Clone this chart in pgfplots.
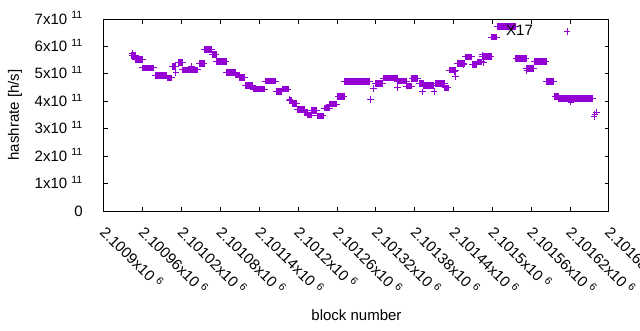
\documentclass[border=0pt]{standalone}
\usepackage{fontspec}
\setmainfont{Liberation Sans}
\usepackage{pgfplots}
\pgfplotsset{compat=1.18}
\usepackage{pgfplotstable}
\definecolor{dviolet}{RGB}{148,0,211}

% runs of blocks with the same hashrate: centre block, hashrate, half-length in blocks
\pgfplotstableread{
x y e
2100946 5.669e11 3.1
2100954 5.523e11 5.4
2100968 5.214e11 8.9
2100988 4.936e11 8.5
2101001 4.856e11 3.5
2101008 5.276e11 2.7
2101018 5.410e11 3.1
2101033 5.148e11 12.0
2101051 5.378e11 3.9
2101061 5.895e11 5.8
2101070 5.713e11 3.1
2101081 5.450e11 7.7
2101096 5.042e11 7.0
2101106 4.966e11 3.1
2101113 4.864e11 4.2
2101124 4.579e11 5.4
2101139 4.448e11 8.9
2101157 4.732e11 7.7
2101170 4.357e11 4.2
2101180 4.441e11 4.6
2101188 4.036e11 2.3
2101194 3.923e11 3.1
2101204 3.701e11 5.4
2101212 3.598e11 3.1
2101217 3.493e11 3.1
2101224 3.660e11 3.9
2101234 3.471e11 4.6
2101244 3.748e11 4.2
2101254 3.901e11 5.4
2101266 4.167e11 5.0
2101291 4.725e11 19.3
2101325 4.656e11 5.4
2101342 4.842e11 10.8
2101360 4.732e11 7.0
2101371 4.557e11 3.9
2101380 4.831e11 4.6
2101390 4.641e11 3.1
2101401 4.572e11 7.3
2101419 4.641e11 6.6
2101429 4.492e11 2.7
2101438 5.133e11 4.6
2101451 5.378e11 5.4
2101463 5.622e11 4.6
2101472 5.345e11 3.5
2101480 5.440e11 3.5
2101491 5.640e11 7.0
2101502 6.337e11 3.9
2101521 6.734e11 13.9
2101544 5.567e11 8.1
2101558 5.199e11 5.4
2101574 5.458e11 8.9
2101589 4.721e11 5.8
2101599 4.182e11 2.7
2101612 4.098e11 10.0
2101639 4.094e11 15.8
}\runs

% isolated blocks
\pgfplotstableread{
x y
2100944 5.742e11
2101011 5.050e11
2101035 5.276e11
2101187 4.065e11
2101312 4.072e11
2101316 4.473e11
2101353 4.503e11
2101392 4.339e11
2101410 4.364e11
2101442 5.068e11
2101443 4.896e11
2101456 5.341e11
2101484 5.688e11
2101486 5.414e11
2101553 5.122e11
2101621 3.974e11
2101657 3.445e11
2101658 3.536e11
2101661 3.609e11
}\singles

\newcommand{\fs}{\fontsize{15}{18}\selectfont}
\newcommand{\sx}[1]{x10\hspace{0.28em}\textsuperscript{#1}}

\begin{document}
\begin{tikzpicture}
\useasboundingbox (-104pt,-119pt) rectangle (536pt,211pt);
\begin{axis}[
  at={(0pt,0pt)}, anchor=south west,
  width=505pt, height=192pt, scale only axis,
  xmin=2100900, xmax=2101680, ymin=0, ymax=7e11,
  scaled ticks=false,
  xtick={2100900,2100960,2101020,2101080,2101140,2101200,2101260,2101320,2101380,2101440,2101500,2101560,2101620,2101680},
  xticklabels={2.1009\sx{6},2.10096\sx{6},2.10102\sx{6},2.10108\sx{6},2.10114\sx{6},2.1012\sx{6},2.10126\sx{6},2.10132\sx{6},2.10138\sx{6},2.10144\sx{6},2.1015\sx{6},2.10156\sx{6},2.10162\sx{6},2.10168\sx{6}},
  ytick={0,1e11,2e11,3e11,4e11,5e11,6e11,7e11},
  yticklabels={0,1\sx{11},2\sx{11},3\sx{11},4\sx{11},5\sx{11},6\sx{11},7\sx{11}},
  xtick pos=both, ytick pos=both, tick align=inside,
  major tick length=4.5pt,
  every tick/.style={black, line width=1pt},
  axis line style={line width=1pt},
  tick label style={font=\fs},
  xticklabel style={xshift=4pt, yshift=-13pt, rotate=-45, anchor=north west, inner sep=0pt},
  yticklabel style={anchor=base east, inner sep=0pt, xshift=-21pt, yshift=-5pt},
  xlabel={block number}, ylabel={hashrate [h/s]},
  every axis x label/.style={at={(rel axis cs:0.5,0)}, anchor=center, yshift=-104pt, font=\fs},
  every axis y label/.style={at={(rel axis cs:0,0.5)}, xshift=-89pt, rotate=90, anchor=center, font=\fs},
  legend plot pos=right,
  legend style={draw=none, fill=none, font=\fs, at={(0.924,0.935)}, anchor=east, inner sep=0pt, column sep=29pt},
]
\addplot[forget plot, only marks, mark=+, mark size=3.25pt, dviolet, mark options={line width=1pt},
  error bars/.cd, x dir=both, x explicit,
  error bar style={line width=6.5pt, dviolet},
  error mark=+, error mark options={line width=1pt, mark size=3.25pt, dviolet}]
  table[x=x, y=y, x error=e] {\runs};
\addplot[only marks, mark=+, mark size=3.25pt, dviolet, mark options={line width=1pt}]
  table[x=x, y=y] {\singles};
\addlegendentry{X17}
\end{axis}
\end{tikzpicture}
\end{document}
